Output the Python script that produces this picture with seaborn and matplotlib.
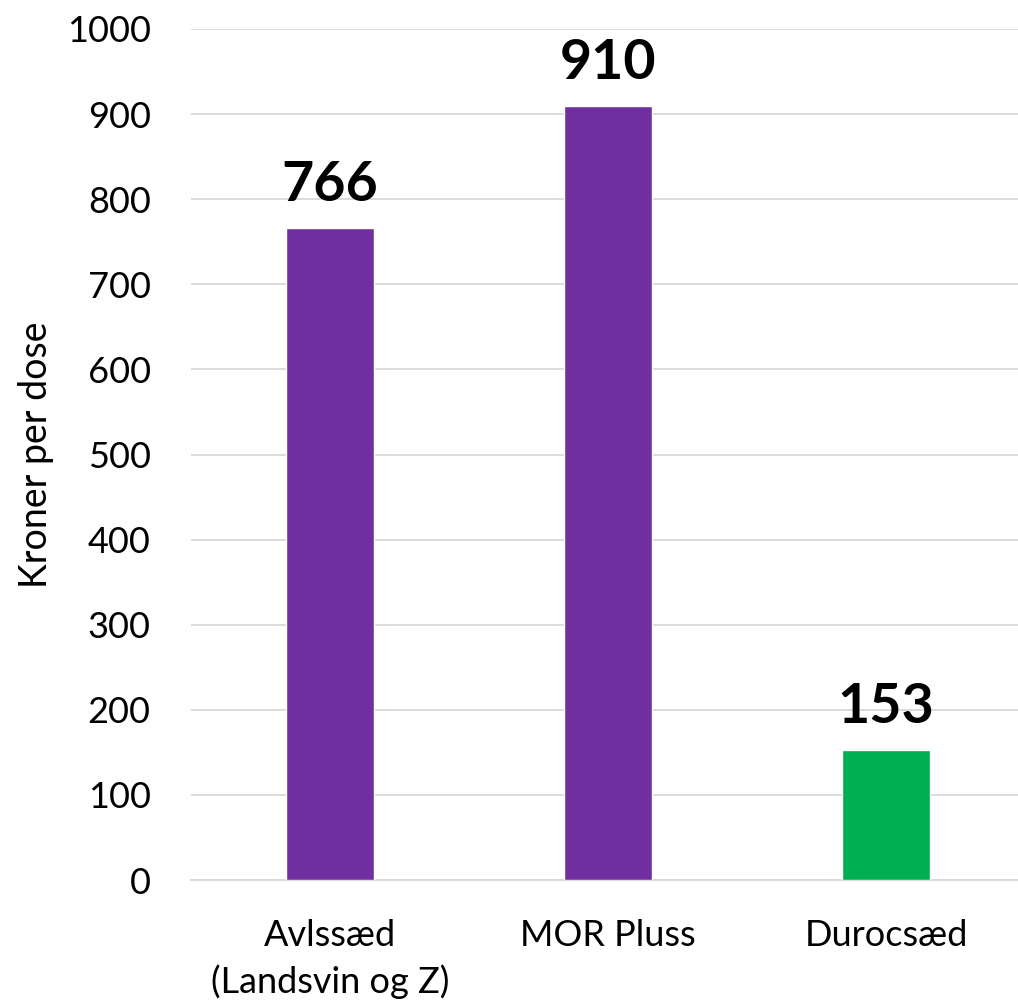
import matplotlib
matplotlib.use("Agg")
import matplotlib.pyplot as plt
import seaborn as sns
import pandas as pd

categories = ["Avlssæd\n(Landsvin og Z)", "MOR Pluss", "Durocsæd"]
values = [766, 910, 153]
colors = ["#7030A0", "#7030A0", "#00B050"]
yticks = [0, 100, 200, 300, 400, 500, 600, 700, 800, 900, 1000]

sns.set_theme(style="white")
plt.rcParams['font.family'] = ['Lato', 'DejaVu Sans']
plt.rcParams['text.color'] = 'black'

df = pd.DataFrame({"cat": categories, "val": values})
W, H = 1018, 1006
left, right, top, bottom = 191, 1018, 29, 880
step = 278.0
fig = plt.figure(figsize=(W / 100, H / 100), dpi=100)
ax = fig.add_axes([left / W, 1 - bottom / H, (right - left) / W, (bottom - top) / H])
sns.barplot(data=df, x="cat", y="val", hue="cat", palette=colors, legend=False,
            width=88 / step, ax=ax, zorder=3, saturation=1)
ax.set_ylim(0, 1000)
ax.set_yticks(yticks)
ax.set_xlim(-0.5, -0.5 + (right - left) / step)
ax.grid(axis="y", color="#D9D9D9", linewidth=1.3, zorder=0)
for s in ["top", "right", "left"]:
    ax.spines[s].set_visible(False)
ax.spines["bottom"].set_color("#D9D9D9")
ax.spines["bottom"].set_linewidth(1.3)
ax.tick_params(axis="both", labelsize=26, colors="black", length=0)
ax.tick_params(axis="x", pad=28)
ax.tick_params(axis="y", pad=29)
for lab in ax.get_xticklabels():
    lab.set_linespacing(1.45)
ax.set_xlabel("")
ax.set_ylabel("Kroner per dose", fontsize=27, labelpad=9, color="black")
for i, v in enumerate(values):
    ax.text(i, v + 21, str(v), ha="center", va="bottom", fontsize=40,
            fontweight="bold", color="black")
fig.savefig("out.png", dpi=100)
